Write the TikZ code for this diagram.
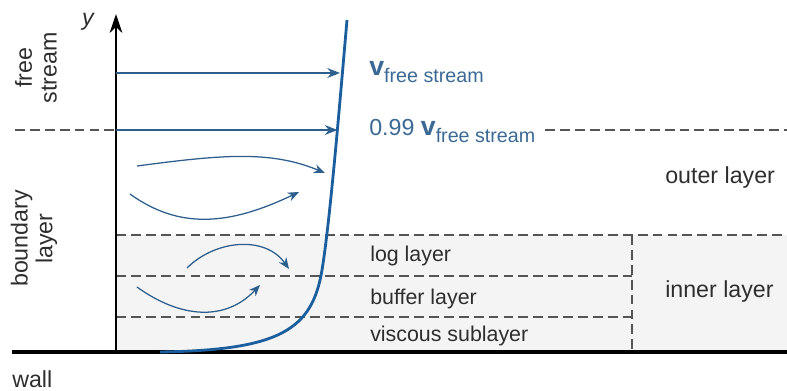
\documentclass[tikz,border=0pt]{standalone}
\usepackage{fontspec}
\setmainfont{Liberation Sans}
\usepackage{tikz}
\usetikzlibrary{arrows.meta}
\definecolor{flowblue}{HTML}{2D5F8E}
\definecolor{profblue}{HTML}{1B5E9E}
\definecolor{textblue}{HTML}{3A6995}
\definecolor{dashgray}{HTML}{555555}
\definecolor{innerfill}{HTML}{F4F4F4}
\tikzstyle{lbl} = [inner sep=0pt, anchor=base west, font=\fontsize{16.5}{19}\selectfont, text=black!82]
\tikzstyle{sublbl} = [lbl, font=\fontsize{15.2}{18}\selectfont]
\tikzstyle{sidelbl} = [inner sep=0pt, rotate=90, align=center, font=\fontsize{16.5}{17.5}\selectfont, text=black!82]
\tikzstyle{vlbl} = [lbl, text=textblue]
\tikzstyle{layerline} = [dashgray, line width=0.75pt, dash pattern=on 7pt off 3.6pt]
\tikzstyle{flow} = [flowblue, line width=1.1pt, -{Stealth[length=9pt,width=7pt]}]
\tikzstyle{eddy} = [flowblue, line width=0.9pt, -{Stealth[length=8pt,width=6.5pt]}]
\newcommand{\vfree}{{\fontsize{19}{20}\selectfont\bfseries v}\raisebox{-5pt}{\fontsize{14}{16}\selectfont free stream}}

\begin{document}
\begin{tikzpicture}[x=0.025cm, y=-0.025cm]
\useasboundingbox (0,0) rectangle (787,390);

% Inner layer region
\fill[innerfill] (116,235) rectangle (787,352);
\draw[layerline] (116,235) -- (787,235);
\draw[layerline] (116,276) -- (632,276);
\draw[layerline] (116,317) -- (632,317);
\draw[layerline] (632,235) -- (632,352);

% Wall and axis
\coordinate (origin) at (116,352);
\coordinate (ytop) at (116,14);
\draw[line width=2.8pt] (12,352) -- (787,352);
\draw[line width=1.5pt, -{Stealth[length=13.5pt,width=9pt]}] (origin) -- (ytop);
\node (ylabel) [inner sep=0pt, font=\fontsize{16.5}{19}\selectfont\itshape, text=black!82] at (88,22) {y};
\node (wall) [lbl] at (12,387) {wall};

% Velocity profile
\draw[profblue, line width=2pt] (160,352) .. controls (280,350) and (312,330) .. (322,270)
  .. controls (330,222) and (340,100) .. (347,20);

% Free stream arrows
\coordinate (axisfree) at (116,73);
\coordinate (axisedge) at (116,130);
\coordinate (proffree) at (340,73);
\coordinate (profedge) at (337.5,130);
\draw[layerline] (15,130) -- (axisedge);
\draw[flow] (axisfree) -- (proffree);
\draw[flow] (axisedge) -- (profedge);
\node (vfree) [vlbl] at (369,75) {\vfree};
\node (vedge) [vlbl] at (369,135) {0.99 \vfree};
\coordinate (dashend) at (787,130);
\draw[layerline] ([xshift=7pt]vedge.east |- dashend) -- (dashend);

% Eddies
\coordinate (eddyAs) at (137,166);
\coordinate (eddyAe) at (325,173);
\coordinate (eddyBs) at (130,194);
\coordinate (eddyBe) at (299,192);
\coordinate (eddyCs) at (187,268);
\coordinate (eddyCe) at (289,269);
\coordinate (eddyDs) at (137,287);
\coordinate (eddyDe) at (260,285);
\draw[eddy] (eddyAs) .. controls (220,155) and (270,150) .. (eddyAe);
\draw[eddy] (eddyBs) .. controls (180,230) and (230,225) .. (eddyBe);
\draw[eddy] (eddyCs) .. controls (215,240) and (265,235) .. (eddyCe);
\draw[eddy] (eddyDs) .. controls (180,318) and (225,322) .. (eddyDe);

% Layer labels
\node (outer) [lbl] at (665,183) {outer layer};
\node (inner) [lbl] at (665,297) {inner layer};
\node (log) [sublbl] at (370,261) {log layer};
\node (buffer) [sublbl] at (370,304) {buffer layer};
\node (viscous) [sublbl] at (370,341) {viscous sublayer};

% Side labels
\node (freestream) [sidelbl] at (36,68) {free\\stream};
\node (boundary) [sidelbl] at (34,238.5) {boundary\\layer};
\end{tikzpicture}
\end{document}
